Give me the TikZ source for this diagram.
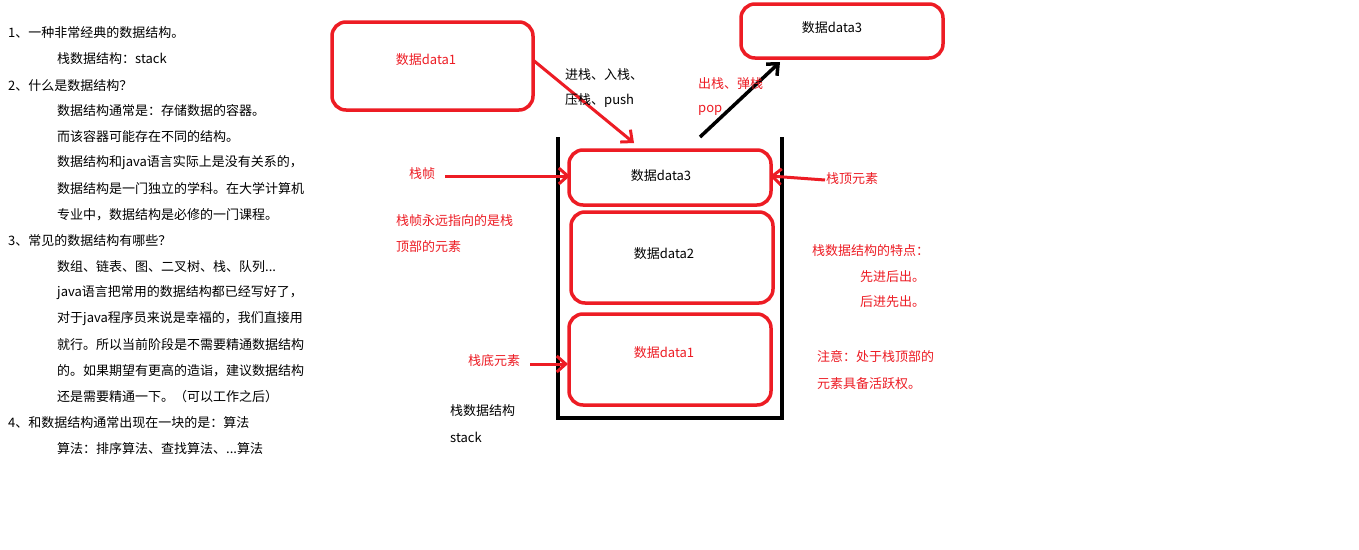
\documentclass[tikz,border=0pt]{standalone}
\usepackage{fontspec}
\setmainfont{Noto Sans CJK SC}
\usetikzlibrary{arrows.meta}
\definecolor{rd}{RGB}{237,28,36}
\begin{document}
\begin{tikzpicture}[x=1pt,y=-1pt,
  t/.style={anchor=west,inner sep=0pt,font=\fontsize{13}{15}\selectfont},
  rt/.style={t,text=rd},
  rbox/.style={draw=rd,line width=3.5pt,rounded corners=14pt},
  rarr/.style={draw=rd,line width=3pt,-{Straight Barb[length=9pt,width=16pt,line width=3pt]}},
  barr/.style={draw=black,line width=3.5pt,-{Straight Barb[length=9pt,width=16pt,line width=3.5pt]}}]
\useasboundingbox (0,0) rectangle (1359,549);
\fill[white] (0,0) rectangle (1359,549);
% left text
\foreach \y/\x/\s in {33/8/{1、一种非常经典的数据结构。},59/57/{栈数据结构：stack},86/8/{2、什么是数据结构？},111/57/{数据结构通常是：存储数据的容器。},137/57/{而该容器可能存在不同的结构。},163/57/{数据结构和java语言实际上是没有关系的，},189/57/{数据结构是一门独立的学科。在大学计算机},215/57/{专业中，数据结构是必修的一门课程。},241/8/{3、常见的数据结构有哪些？},267/57/{数组、链表、图、二叉树、栈、队列...},293/57/{java语言把常用的数据结构都已经写好了，},319/57/{对于java程序员来说是幸福的，我们直接用},345/57/{就行。所以当前阶段是不需要精通数据结构},371/57/{的。如果期望有更高的造诣，建议数据结构},397/57/{还是需要精通一下。（可以工作之后）},423/8/{4、和数据结构通常出现在一块的是：算法},449/57/{算法：排序算法、查找算法、...算法}}
  \node[t] at (\x,\y) {\s};
% boxes
\draw[rbox] (332,22) rectangle (533,110);
\node[text=rd,font=\fontsize{13}{15}\selectfont] (d1top) at (426,60) {数据data1};
\draw[rbox] (741,4) rectangle (943,58);
\node[font=\fontsize{13}{15}\selectfont] (d3top) at (832,28) {数据data3};
\draw[line width=4pt] (558,137) -- (558,418) -- (782,418) -- (782,137);
\draw[rbox] (569,150) rectangle (771,205);
\node[font=\fontsize{13}{15}\selectfont] (s3) at (661,176) {数据data3};
\draw[rbox] (571,212) rectangle (773,303);
\node[font=\fontsize{13}{15}\selectfont] (s2) at (664,254) {数据data2};
\draw[rbox] (569,314) rectangle (771,405);
\node[text=rd,font=\fontsize{13}{15}\selectfont] (s1) at (664,353) {数据data1};
% coordinates
\coordinate (a1s) at (533,60); \coordinate (a1e) at (634,143);
\coordinate (a2s) at (700,137); \coordinate (a2e) at (780,62);
\coordinate (a3s) at (445,176); \coordinate (a3e) at (570,176);
\coordinate (a4s) at (825,180); \coordinate (a4e) at (770,176);
\coordinate (a5s) at (530,364); \coordinate (a5e) at (568,364);
\draw[rarr] (a1s) -- (a1e);
\draw[barr] (a2s) -- (a2e);
\draw[rarr] (a3s) -- (a3e);
\draw[rarr] (a4s) -- (a4e);
\draw[rarr] (a5s) -- (a5e);
% labels
\node[t] (l1) at (565,75) {进栈、入栈、};
\node[t] (l2) at (565,101) {压栈、push};
\node[rt] (l3) at (698,84) {出栈、弹栈};
\node[rt] (l4) at (698,110) {pop};
\node[rt] (l5) at (409,174) {栈帧};
\node[rt] (l6) at (826,179) {栈顶元素};
\node[rt] (l7) at (396,221) {栈帧永远指向的是栈};
\node[rt] (l8) at (396,247) {顶部的元素};
\node[rt] (l9) at (468,361) {栈底元素};
\node[rt] (l10) at (812,251) {栈数据结构的特点：};
\node[rt] (l11) at (860,277) {先进后出。};
\node[rt] (l12) at (860,302) {后进先出。};
\node[rt] (l13) at (817,357) {注意：处于栈顶部的};
\node[rt] (l14) at (817,384) {元素具备活跃权。};
\node[t] (l15) at (450,411) {栈数据结构};
\node[t] (l16) at (450,437) {stack};
\end{tikzpicture}
\end{document}
